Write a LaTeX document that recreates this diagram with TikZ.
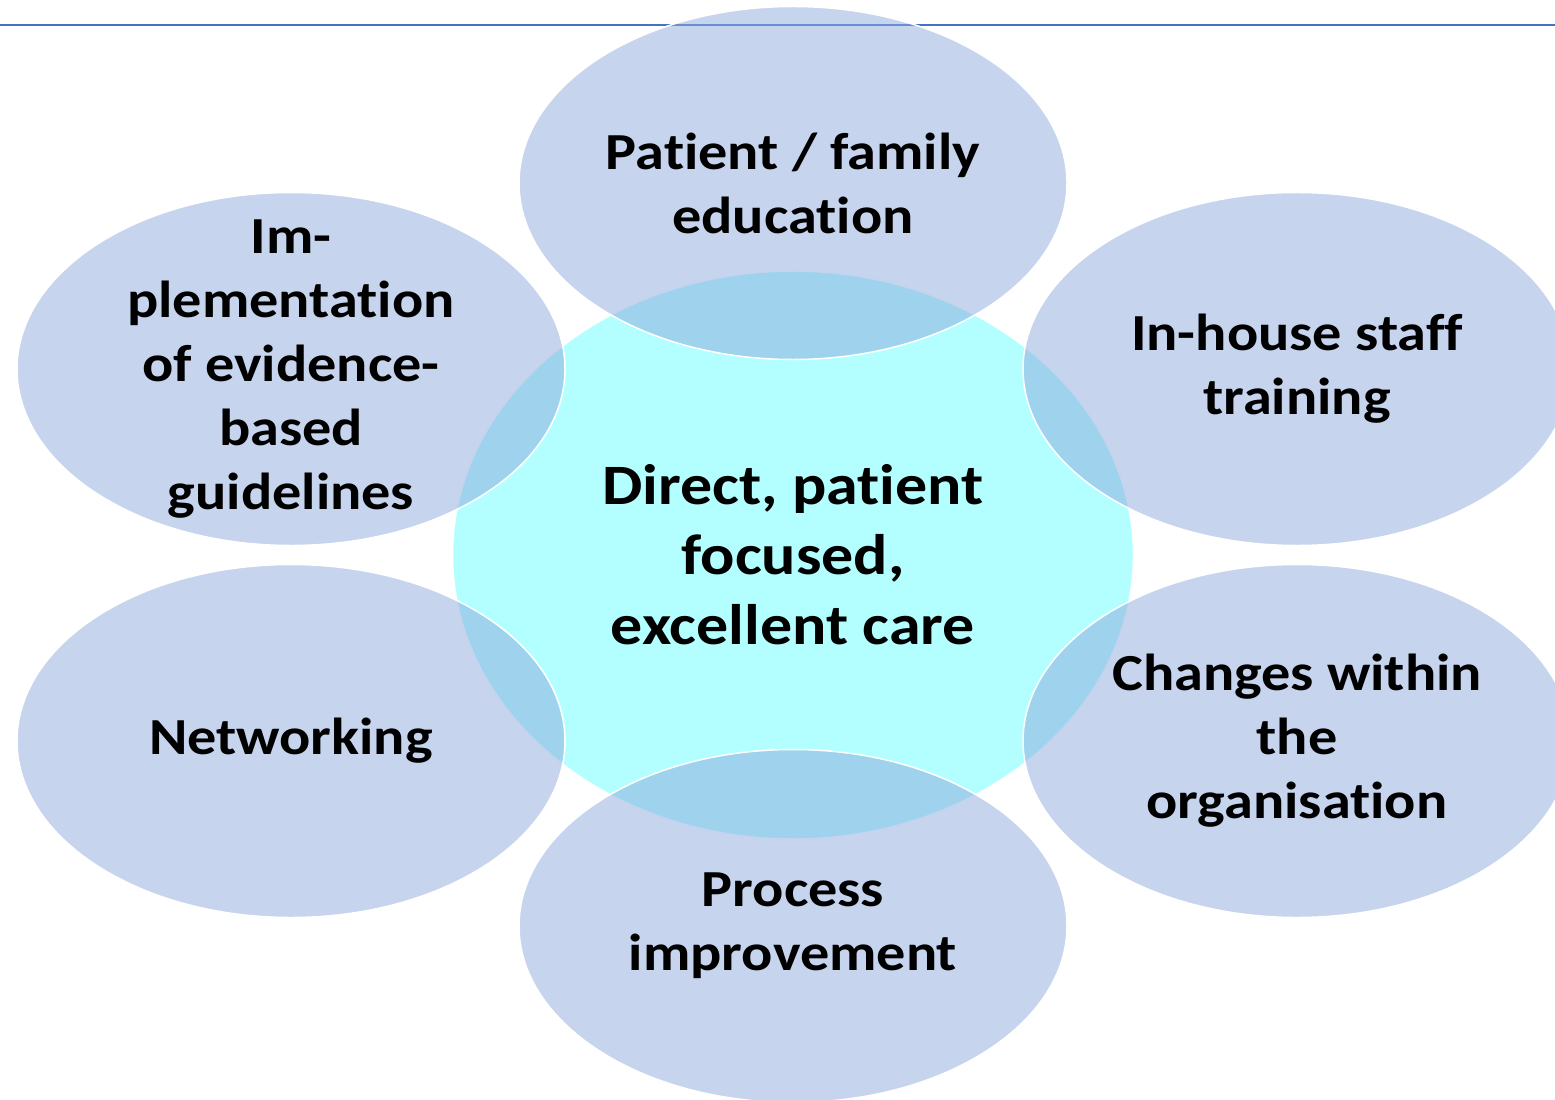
\documentclass[tikz,border=0pt]{standalone}
\usepackage{fontspec}
\setmainfont{Carlito}[FakeStretch=1.12, RawFeature=-liga]
\usepackage{tikz}
\usetikzlibrary{shapes.geometric}
\definecolor{topline}{HTML}{4472C4}
\definecolor{hubfill}{HTML}{B3FFFF}
\definecolor{petalfill}{HTML}{8DA9DD}
\tikzset{
  hub/.style={ellipse, draw=white, line width=0.3mm, fill=hubfill, inner sep=0pt,
    minimum width=136.2mm, minimum height=113.6mm},
  petal/.style={ellipse, draw=white, line width=0.3mm, fill=petalfill, fill opacity=0.5,
    draw opacity=1, inner sep=0pt, minimum width=109.6mm, minimum height=70.6mm},
  hubtext/.style={align=center, font=\fontsize{32.5}{39.8}\selectfont\bfseries},
  petaltext/.style={align=center, font=\fontsize{29.6}{36.4}\selectfont\bfseries}
}
\begin{document}
\begin{tikzpicture}[x=0.2mm,y=-0.2mm]
\useasboundingbox (0,0) rectangle (1555,1100);
\clip (0,0) rectangle (1555,1100);
\draw[topline, line width=0.45mm] (0,25) -- (1555,25);
\node[hub] (c0) at (793,555) {};
\node[petal] (e1) at (793,183) {};
\node[petal] (e2) at (1297,369) {};
\node[petal] (e3) at (1297,741) {};
\node[petal] (e4) at (793,926) {};
\node[petal] (e5) at (291,741) {};
\node[petal] (e6) at (291,369) {};
\node[hubtext] (t0) at (c0) {Direct, patient\\focused,\\excellent care};
\node[petaltext] (t1) at (e1) {Patient / family\\education};
\node[petaltext] (t2) at (e2) {In-house staff\\training};
\node[petaltext] (t3) at (e3) {Changes within\\the\\organisation};
\node[petaltext] (t4) at (e4) {Process\\improvement};
\node[petaltext] (t5) at (e5) {Networking};
\node[petaltext] (t6) at (e6) {Im-\\plementation\\of evidence-\\based\\guidelines};
\end{tikzpicture}
\end{document}
